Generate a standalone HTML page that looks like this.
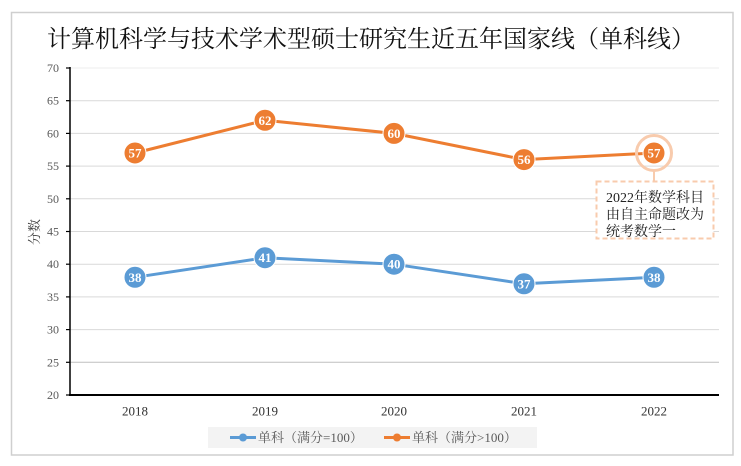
<!DOCTYPE html>
<html><head><meta charset="utf-8"><style>
html,body{margin:0;padding:0;background:#fff;width:741px;height:466px;overflow:hidden}
svg{display:block}
</style></head><body>
<svg width="741" height="466" viewBox="0 0 741 466" xmlns="http://www.w3.org/2000/svg">
<rect x="0" y="0" width="741" height="466" fill="#fff"/>
<rect x="11.5" y="12.5" width="721.5" height="442.5" fill="#fff" stroke="#cfcfcf" stroke-width="1.5"/>
<text x="47" y="47" font-family="'Liberation Serif','Noto Serif CJK SC',serif" font-size="24" fill="#111">计算机科学与技术学术型硕士研究生近五年国家线（单科线）</text>
<g stroke="#d9d9d9" stroke-width="1">
<line x1="70" y1="68" x2="719" y2="68" stroke="#eeeeee"/>
<line x1="70" y1="100.7" x2="719" y2="100.7"/>
<line x1="70" y1="133.4" x2="719" y2="133.4"/>
<line x1="70" y1="166.1" x2="719" y2="166.1"/>
<line x1="70" y1="198.8" x2="719" y2="198.8"/>
<line x1="70" y1="231.5" x2="719" y2="231.5"/>
<line x1="70" y1="264.2" x2="719" y2="264.2"/>
<line x1="70" y1="296.9" x2="719" y2="296.9"/>
<line x1="70" y1="329.6" x2="719" y2="329.6"/>
<line x1="70" y1="362.3" x2="719" y2="362.3" stroke="#bfbfbf"/>
</g>
<g stroke="#000" stroke-width="1.2">
<line x1="66" y1="68" x2="70" y2="68"/><line x1="66" y1="100.7" x2="70" y2="100.7"/><line x1="66" y1="133.4" x2="70" y2="133.4"/><line x1="66" y1="166.1" x2="70" y2="166.1"/><line x1="66" y1="198.8" x2="70" y2="198.8"/><line x1="66" y1="231.5" x2="70" y2="231.5"/><line x1="66" y1="264.2" x2="70" y2="264.2"/><line x1="66" y1="296.9" x2="70" y2="296.9"/><line x1="66" y1="329.6" x2="70" y2="329.6"/><line x1="66" y1="362.3" x2="70" y2="362.3"/><line x1="66" y1="395" x2="70" y2="395"/>
</g>
<line x1="70" y1="67" x2="70" y2="395" stroke="#000" stroke-width="1.5"/>
<line x1="69" y1="395" x2="719" y2="395" stroke="#000" stroke-width="2"/>
<g font-family="'Liberation Serif',serif" font-size="12" fill="#595959" text-anchor="end">
<text x="59" y="72">70</text><text x="59" y="104.7">65</text><text x="59" y="137.4">60</text><text x="59" y="170.1">55</text><text x="59" y="202.8">50</text><text x="59" y="235.5">45</text><text x="59" y="268.2">40</text><text x="59" y="300.9">35</text><text x="59" y="333.6">30</text><text x="59" y="366.3">25</text><text x="59" y="399">20</text>
</g>
<text transform="translate(39,232) rotate(-90)" text-anchor="middle" font-family="'Liberation Serif','Noto Serif CJK SC',serif" font-size="13" fill="#404040">分数</text>
<g font-family="'Liberation Serif',serif" font-size="13" fill="#333" text-anchor="middle">
<text x="135" y="415.5">2018</text><text x="265" y="415.5">2019</text><text x="394" y="415.5">2020</text><text x="524" y="415.5">2021</text><text x="654" y="415.5">2022</text>
</g>
<polyline points="135,153 265,120.3 394,133.4 524,159.6 654,153" fill="none" stroke="#ED7D31" stroke-width="3"/>
<polyline points="135,277.3 265,257.7 394,264.2 524,283.8 654,277.3" fill="none" stroke="#5B9BD5" stroke-width="3"/>
<circle cx="654" cy="153" r="17.5" fill="none" stroke="#F8CBAD" stroke-width="3"/>
<line x1="654" y1="171" x2="654" y2="181" stroke="#F8CBAD" stroke-width="2"/>
<rect x="596.5" y="181.5" width="117" height="57" fill="#fff" stroke="#F8CBAD" stroke-width="2" stroke-dasharray="5,3"/>
<g font-family="'Liberation Serif','Noto Serif CJK SC',serif" font-size="14" fill="#222">
<text x="606" y="202">2022年数学科目</text>
<text x="606" y="219">由自主命题改为</text>
<text x="606" y="236">统考数学一</text>
</g>
<g fill="#ED7D31" stroke="#fff" stroke-width="1">
<circle cx="135" cy="153" r="11"/><circle cx="265" cy="120.3" r="11"/><circle cx="394" cy="133.4" r="11"/><circle cx="524" cy="159.6" r="11"/><circle cx="654" cy="153" r="11"/>
</g>
<g fill="#5B9BD5" stroke="#fff" stroke-width="1">
<circle cx="135" cy="277.3" r="11"/><circle cx="265" cy="257.7" r="11"/><circle cx="394" cy="264.2" r="11"/><circle cx="524" cy="283.8" r="11"/><circle cx="654" cy="277.3" r="11"/>
</g>
<g font-family="'Liberation Serif',serif" font-size="13" font-weight="bold" fill="#fff" text-anchor="middle">
<text x="135" y="157.5">57</text><text x="265" y="124.8">62</text><text x="394" y="137.9">60</text><text x="524" y="164.1">56</text><text x="654" y="157.5">57</text>
<text x="135" y="281.8">38</text><text x="265" y="262.2">41</text><text x="394" y="268.7">40</text><text x="524" y="288.3">37</text><text x="654" y="281.8">38</text>
</g>
<rect x="208" y="427" width="329" height="21" fill="#f3f3f3"/>
<line x1="230" y1="437.5" x2="256" y2="437.5" stroke="#5B9BD5" stroke-width="3"/>
<circle cx="243" cy="437.5" r="4" fill="#5B9BD5"/>
<line x1="384" y1="437.5" x2="410" y2="437.5" stroke="#ED7D31" stroke-width="3"/>
<circle cx="397" cy="437.5" r="4" fill="#ED7D31"/>
<g font-family="'Liberation Serif','Noto Serif CJK SC',serif" font-size="13" fill="#595959">
<text x="258" y="442">单科（满分=100）</text>
<text x="412" y="442">单科（满分&gt;100）</text>
</g>
</svg>
</body></html>
